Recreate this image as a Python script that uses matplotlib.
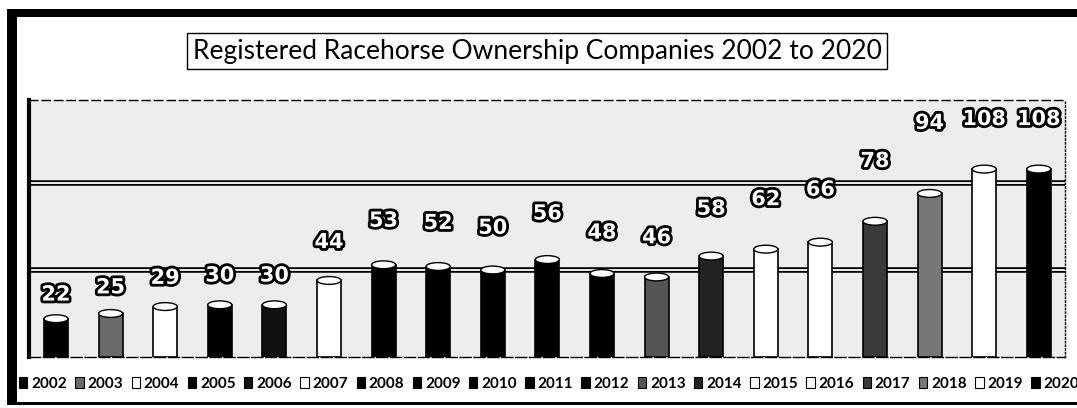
import matplotlib.pyplot as plt
import matplotlib.patheffects as pe
from matplotlib.patches import Ellipse, Patch, Rectangle

years = ["2002", "2003", "2004", "2005", "2006", "2007", "2008", "2009", "2010", "2011",
         "2012", "2013", "2014", "2015", "2016", "2017", "2018", "2019", "2020"]
companies = [22, 25, 29, 30, 30, 44, 53, 52, 50, 56, 48, 46, 58, 62, 66, 78, 94, 108, 108]

bar_colors = ["#000000", "#6a6a6a", "#ffffff", "#000000", "#111111", "#ffffff", "#000000",
              "#000000", "#000000", "#000000", "#000000", "#555555", "#222222", "#ffffff",
              "#ffffff", "#3a3a3a", "#777777", "#ffffff", "#000000"]

fig = plt.figure(figsize=(10.77, 4.08), dpi=100)
fig.patch.set_facecolor("white")

# heavy black frame around the whole chart (open on the right)
fig.add_artist(Rectangle((7 / 1077, 1 - 405 / 408), 10 / 1077, 396 / 408,
                         transform=fig.transFigure, color="black", lw=0))
fig.add_artist(Rectangle((7 / 1077, 1 - 17 / 408), 1070 / 1077, 8 / 408,
                         transform=fig.transFigure, color="black", lw=0))
fig.add_artist(Rectangle((7 / 1077, 1 - 405 / 408), 1070 / 1077, 3 / 408,
                         transform=fig.transFigure, color="black", lw=0))

ax = fig.add_axes([29 / 1077, 1 - 357 / 408, 1036 / 1077, 257 / 408])
ax.set_facecolor("#ededed")

x = list(range(len(years)))
bars = ax.bar(x, companies, width=0.44, color=bar_colors, edgecolor="black",
              linewidth=1.2, zorder=3)

# cylinder caps
for xi, v in zip(x, companies):
    ax.add_patch(Ellipse((xi, v), 0.44, 4.5, facecolor="white", edgecolor="black",
                         linewidth=1.0, zorder=4))

# double gridlines on the back wall
for g in (50, 100):
    ax.axhline(g, color="black", lw=4, zorder=1)
    ax.axhline(g, color="white", lw=1.3, zorder=1.5)

# value labels, white with black outline
for xi, v in zip(x, companies):
    ax.text(xi, min(v * 1.37, 131), str(v), ha="center", va="bottom",
            fontsize=15, fontweight="bold", color="white", zorder=6,
            path_effects=[pe.withStroke(linewidth=4, foreground="black")])

ax.set_xlim(-0.4945, 18.48)
ax.set_ylim(0, 147.7)
ax.set_xticks([])
ax.set_yticks([])
ax.spines["left"].set_linewidth(3)
ax.spines["top"].set_linestyle((0, (6, 3)))
ax.spines["top"].set_linewidth(1)
ax.spines["right"].set_linestyle(":")
ax.spines["right"].set_linewidth(1)
ax.spines["bottom"].set_linestyle((0, (8, 2)))
ax.spines["bottom"].set_linewidth(1)

fig.text(537 / 1077, 1 - 51 / 408, "Registered Racehorse Ownership Companies 2002 to 2020",
         ha="center", va="center", fontsize=19, family="Lato",
         bbox=dict(boxstyle="square,pad=0.2", facecolor="white", edgecolor="black", lw=1))

handles = [Patch(facecolor=c, edgecolor="black", linewidth=0.8) for c in bar_colors]
fig.legend(handles, years, ncol=len(years), loc="center left",
           bbox_to_anchor=(19 / 1077, 1 - 384 / 408), frameon=False,
           handlelength=0.55, handleheight=0.7, handletextpad=0.25,
           columnspacing=0.55, borderpad=0, borderaxespad=0,
           prop={"family": "Lato", "weight": "bold", "size": 11})

fig.savefig("out.png", dpi=100)
